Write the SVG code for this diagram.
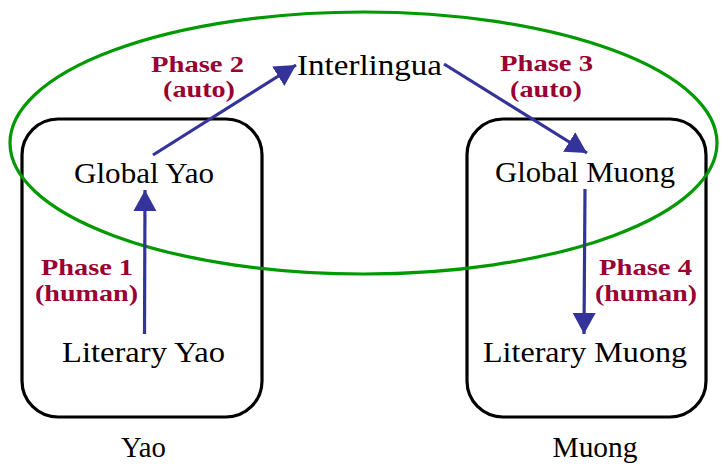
<svg xmlns="http://www.w3.org/2000/svg" width="727" height="472" viewBox="0 0 727 472">
<style>
text{font-family:"Times New Roman","Liberation Serif",Tinos,"Noto Serif","DejaVu Serif",FreeSerif,Georgia,serif}
.node{font-size:29px;fill:#000;text-anchor:middle}
.phase{font-size:24px;font-weight:bold;fill:#990033;text-anchor:middle}
.box{fill:none;stroke:#000;stroke-width:3.2}
.edge{fill:none;stroke:#333399;stroke-width:3.2}
</style>
<defs>
<marker id="ah" markerWidth="22" markerHeight="24" refX="21" refY="11.5" orient="auto" markerUnits="userSpaceOnUse">
<path d="M0,0 L21,11.5 L0,23 Z" fill="#333399"/>
</marker>
</defs>
<g id="yao-group">
<rect class="box" x="22" y="119" width="240" height="298" rx="36" ry="36"/>
<text class="node" x="143.5" y="457" textLength="45" lengthAdjust="spacingAndGlyphs">Yao</text>
</g>
<g id="muong-group">
<rect class="box" x="467" y="119" width="239" height="298" rx="36" ry="36"/>
<text class="node" x="595" y="457" textLength="85" lengthAdjust="spacingAndGlyphs">Muong</text>
</g>
<g id="auto-region">
<ellipse cx="363.5" cy="143" rx="353.5" ry="131" fill="none" stroke="#009900" stroke-width="3.2"/>
</g>
<g id="global-yao"><text class="node" x="144" y="183" textLength="140" lengthAdjust="spacingAndGlyphs">Global Yao</text></g>
<g id="literary-yao"><text class="node" x="143.5" y="362" textLength="163" lengthAdjust="spacingAndGlyphs">Literary Yao</text></g>
<g id="interlingua"><text class="node" x="369.5" y="75" textLength="145" lengthAdjust="spacingAndGlyphs">Interlingua</text></g>
<g id="global-muong"><text class="node" x="585" y="182" textLength="180" lengthAdjust="spacingAndGlyphs">Global Muong</text></g>
<g id="literary-muong"><text class="node" x="585" y="362" textLength="204" lengthAdjust="spacingAndGlyphs">Literary Muong</text></g>
<g id="connectors">
<line class="edge" x1="144.5" y1="334" x2="145" y2="190" marker-end="url(#ah)"/>
<line class="edge" x1="153" y1="155" x2="296" y2="65" marker-end="url(#ah)"/>
<line class="edge" x1="444" y1="64" x2="587" y2="153" marker-end="url(#ah)"/>
<line class="edge" x1="585" y1="189" x2="584" y2="334" marker-end="url(#ah)"/>
</g>
<g id="labels">
<text class="phase" x="197.5" y="72" textLength="93" lengthAdjust="spacingAndGlyphs">Phase 2</text>
<text class="phase" x="199" y="97" textLength="72" lengthAdjust="spacingAndGlyphs">(auto)</text>
<text class="phase" x="546.5" y="71" textLength="93" lengthAdjust="spacingAndGlyphs">Phase 3</text>
<text class="phase" x="546" y="97" textLength="72" lengthAdjust="spacingAndGlyphs">(auto)</text>
<text class="phase" x="87" y="275" textLength="92" lengthAdjust="spacingAndGlyphs">Phase 1</text>
<text class="phase" x="86.5" y="301" textLength="103" lengthAdjust="spacingAndGlyphs">(human)</text>
<text class="phase" x="645.5" y="275" textLength="93" lengthAdjust="spacingAndGlyphs">Phase 4</text>
<text class="phase" x="646" y="301" textLength="102" lengthAdjust="spacingAndGlyphs">(human)</text>
</g>
</svg>
